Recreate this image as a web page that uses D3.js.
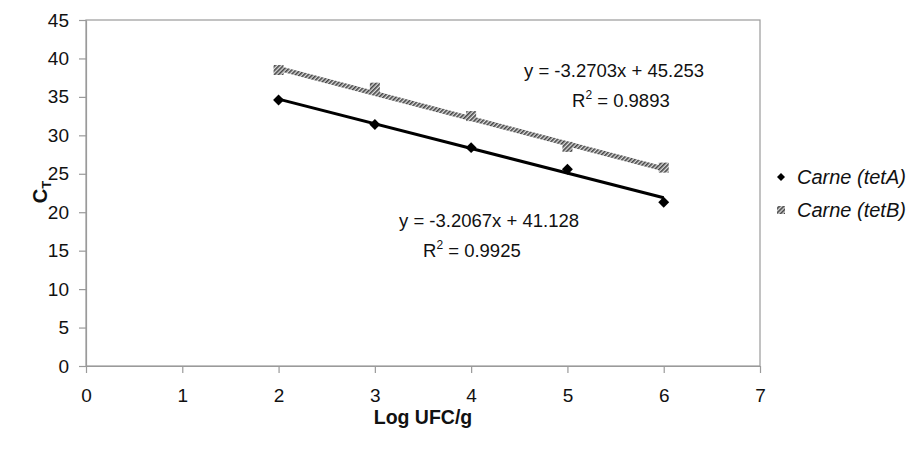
<html>
<head>
<script src="https://d3js.org/d3.v7.min.js"></script>
<style>
    html, body { margin: 0; padding: 0; background: #fff; }
    text { font-family: "Liberation Sans", Arial, sans-serif; fill: #111; }
</style>
</head>
<body>
<div id="chart"></div>
<script>
// data
const logUfc = [2, 3, 4, 5, 6];
const tetA = [34.6, 31.4, 28.4, 25.6, 21.3];
const tetB = [38.5, 36.2, 32.5, 28.5, 25.8];
const fitA = { slope: -3.2067, intercept: 41.128, r2: "0.9925", eq: "y = -3.2067x + 41.128" };
const fitB = { slope: -3.2703, intercept: 45.253, r2: "0.9893", eq: "y = -3.2703x + 45.253" };
const xTicks = [0, 1, 2, 3, 4, 5, 6, 7];
const yTicks = [0, 5, 10, 15, 20, 25, 30, 35, 40, 45];
const seriesNames = ["Carne (tetA)", "Carne (tetB)"];

const W = 920, H = 450;
const plot = { left: 86, right: 760, top: 20, bottom: 366 };

const svg = d3.select("#chart").append("svg")
    .attr("width", W).attr("height", H);

// hatch pattern for tetB
const defs = svg.append("defs");
const pat = defs.append("pattern")
    .attr("id", "hatch")
    .attr("patternUnits", "userSpaceOnUse")
    .attr("width", 3).attr("height", 3)
    .attr("patternTransform", "rotate(45)");
pat.append("rect").attr("width", 3).attr("height", 3).attr("fill", "#dcdcdc");
pat.append("rect").attr("width", 1.6).attr("height", 3).attr("fill", "#444");

const x = d3.scaleLinear().domain([0, 7]).range([plot.left, plot.right]);
const y = d3.scaleLinear().domain([0, 45]).range([plot.bottom, plot.top]);

// plot border
svg.append("rect")
    .attr("x", plot.left).attr("y", plot.top)
    .attr("width", plot.right - plot.left).attr("height", plot.bottom - plot.top)
    .attr("fill", "none").attr("stroke", "#9a9a9a").attr("stroke-width", 1.2);

const xAxis = svg.append("g")
    .attr("transform", "translate(0," + plot.bottom + ")")
    .call(d3.axisBottom(x).tickValues(xTicks).tickFormat(d3.format("d"))
        .tickSizeInner(7).tickSizeOuter(0).tickPadding(16));
const yAxis = svg.append("g")
    .attr("transform", "translate(" + plot.left + ",0)")
    .call(d3.axisLeft(y).tickValues(yTicks)
        .tickSizeInner(7).tickSizeOuter(0).tickPadding(10));

svg.selectAll(".domain").attr("stroke", "#9a9a9a").attr("stroke-width", 1.2);
svg.selectAll(".tick line").attr("stroke", "#9a9a9a").attr("stroke-width", 1.2);
svg.selectAll(".tick text")
    .attr("font-size", 19)
    .attr("font-family", "Liberation Sans, Arial, sans-serif")
    .attr("fill", "#111");

// axis titles
svg.append("text")
    .attr("x", (plot.left + plot.right) / 2).attr("y", 424)
    .attr("text-anchor", "middle")
    .attr("font-size", 19.5).attr("font-weight", "bold")
    .text("Log UFC/g");

const yt = svg.append("text")
    .attr("transform", "translate(47,192) rotate(-90)")
    .attr("text-anchor", "middle")
    .attr("font-size", 20).attr("font-weight", "bold");
yt.append("tspan").text("C");
yt.append("tspan").attr("font-size", 13).attr("dy", 4).text("T");

// trendlines
const xs = [logUfc[0], logUfc[logUfc.length - 1]];
const line = d3.line().x(d => x(d[0])).y(d => y(d[1]));

svg.append("path")
    .datum(xs.map(v => [v, fitB.slope * v + fitB.intercept]))
    .attr("d", line)
    .attr("fill", "none")
    .attr("stroke", "url(#hatch)")
    .attr("stroke-width", 5);

svg.append("path")
    .datum(xs.map(v => [v, fitA.slope * v + fitA.intercept]))
    .attr("d", line)
    .attr("fill", "none")
    .attr("stroke", "#000")
    .attr("stroke-width", 3);

// markers
svg.append("g").selectAll("rect")
    .data(logUfc.map((v, i) => [v, tetB[i]]))
    .enter().append("rect")
    .attr("x", d => x(d[0]) - 5).attr("y", d => y(d[1]) - 5)
    .attr("width", 10).attr("height", 10)
    .attr("fill", "url(#hatch)");

const diamond = d3.symbol().type(d3.symbolSquare).size(60);
svg.append("g").selectAll("path")
    .data(logUfc.map((v, i) => [v, tetA[i]]))
    .enter().append("path")
    .attr("transform", d => "translate(" + x(d[0]) + "," + y(d[1]) + ") rotate(45)")
    .attr("d", diamond)
    .attr("fill", "#000");

// equations
function eqLabel(x1, y1, x2, fit) {
    svg.append("text")
        .attr("x", x1).attr("y", y1)
        .attr("font-size", 18.5)
        .text(fit.eq);
    const r = svg.append("text")
        .attr("x", x2).attr("y", y1 + 30)
        .attr("font-size", 18.5);
    r.append("tspan").text("R");
    r.append("tspan").attr("font-size", 12).attr("dy", -8).text("2");
    r.append("tspan").attr("dy", 8).text(" = " + fit.r2);
}
eqLabel(524, 77, 572, fitB);
eqLabel(399, 227, 423, fitA);

// legend
const lg = svg.append("g").attr("transform", "translate(781,0)");
lg.append("path")
    .attr("transform", "translate(0,177) rotate(45)")
    .attr("d", d3.symbol().type(d3.symbolSquare).size(32))
    .attr("fill", "#000");
lg.append("rect")
    .attr("x", -4).attr("y", 206).attr("width", 8).attr("height", 8)
    .attr("fill", "url(#hatch)");
lg.selectAll("text.leg")
    .data(seriesNames)
    .enter().append("text")
    .attr("class", "leg")
    .attr("x", 16).attr("y", (d, i) => 184 + i * 33)
    .attr("font-size", 20).attr("font-style", "italic")
    .text(d => d);
</script>
</body>
</html>
